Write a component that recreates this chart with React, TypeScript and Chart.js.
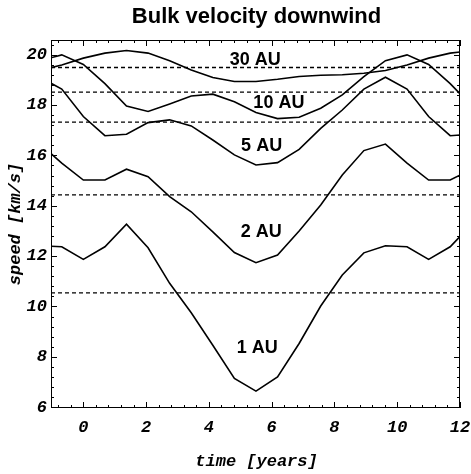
import React, { useEffect, useRef } from "react";
import { Chart, registerables } from "chart.js";

Chart.register(...registerables);

// time samples (years)
const times = [-1.375, -0.6875, 0, 0.6875, 1.375, 2.0625, 2.75, 3.4375, 4.125, 4.8125, 5.5, 6.1875, 6.875, 7.5625, 8.25, 8.9375, 9.625, 10.3125, 11, 11.6875, 12.375];

// bulk speed downwind (km/s)
const speed1AU = [12.41, 12.37, 11.87, 12.37, 13.27, 12.33, 10.92, 9.75, 8.46, 7.14, 6.64, 7.2, 8.53, 10.02, 11.25, 12.13, 12.41, 12.37, 11.87, 12.37, 13.27];
const speed2AU = [16.45, 15.69, 15.02, 15.02, 15.45, 15.15, 14.36, 13.76, 12.96, 12.14, 11.74, 12.04, 13.0, 14.03, 15.22, 16.19, 16.45, 15.69, 15.02, 15.02, 15.45];
const speed5AU = [19.1, 18.63, 17.54, 16.78, 16.84, 17.3, 17.41, 17.17, 16.61, 16.02, 15.62, 15.71, 16.24, 17.07, 17.8, 18.63, 19.1, 18.63, 17.54, 16.78, 16.84];
const speed10AU = [19.76, 19.99, 19.61, 18.85, 17.96, 17.74, 18.04, 18.36, 18.43, 18.13, 17.7, 17.46, 17.51, 17.87, 18.4, 19.13, 19.76, 19.99, 19.61, 18.85, 17.96];
const speed30AU = [19.37, 19.59, 19.86, 20.06, 20.16, 20.06, 19.76, 19.39, 19.09, 18.93, 18.93, 19.02, 19.13, 19.18, 19.2, 19.26, 19.37, 19.59, 19.86, 20.06, 20.16];

// mean speeds (dashed lines)
const meanSpeeds = [19.49, 18.51, 17.32, 14.43, 10.54];

// curve labels
const curveLabels = ["30 AU", "10 AU", "5 AU", "2 AU", "1 AU"];
const labelTimes = [5.48, 6.23, 5.68, 5.67, 5.54];
const labelSpeeds = [19.83, 18.12, 16.43, 13.02, 8.42];

// axis ticks
const xTicks = [0, 2, 4, 6, 8, 10, 12];
const yTicks = [6, 8, 10, 12, 14, 16, 18, 20];

const X_MIN = -1.03;
const X_MAX = 12;
const Y_MIN = 5.97;
const Y_MAX = 20.58;

const MONO = "'Liberation Mono', 'DejaVu Sans Mono', monospace";
const SANS = "'Liberation Sans', Arial, sans-serif";

const framePlugin = {
  id: "frame",
  afterDraw(chart: any) {
    const ctx = chart.ctx;
    const { left, right, top, bottom } = chart.chartArea;
    const xs = chart.scales.x;
    const ys = chart.scales.y;
    ctx.save();
    ctx.strokeStyle = "#000";
    ctx.lineWidth = 1;
    ctx.strokeRect(left + 0.5, top + 0.5, right - left - 1, bottom - top - 1);
    ctx.beginPath();
    for (let i = -3; i <= 30; i++) {
      const v = i * 0.4;
      if (v < X_MIN || v > X_MAX + 1e-9) continue;
      const px = Math.round(xs.getPixelForValue(v)) + 0.5;
      const len = i % 5 === 0 ? 6 : 3;
      ctx.moveTo(px, bottom);
      ctx.lineTo(px, bottom - len);
      ctx.moveTo(px, top);
      ctx.lineTo(px, top + len);
    }
    for (let i = 14; i <= 52; i++) {
      const v = i * 0.4;
      if (v < Y_MIN || v > Y_MAX) continue;
      const py = Math.round(ys.getPixelForValue(v)) + 0.5;
      const len = i % 5 === 0 ? 6 : 3;
      ctx.moveTo(left, py);
      ctx.lineTo(left + len, py);
      ctx.moveTo(right, py);
      ctx.lineTo(right - len, py);
    }
    ctx.stroke();

    // title
    const cx = (left + right) / 2 + 1;
    ctx.fillStyle = "#000";
    ctx.textAlign = "center";
    ctx.textBaseline = "alphabetic";
    ctx.font = `bold 22px ${SANS}`;
    ctx.fillText("Bulk velocity downwind", cx, 23);

    // axis titles
    ctx.font = `italic bold 17px ${MONO}`;
    ctx.textBaseline = "middle";
    ctx.fillText("time [years]", cx, 462);
    ctx.save();
    ctx.translate(16, (top + bottom) / 2);
    ctx.rotate(-Math.PI / 2);
    ctx.fillText("speed [km/s]", 0, 0);
    ctx.restore();

    // curve labels
    ctx.font = `bold 18px ${SANS}`;
    ctx.textBaseline = "alphabetic";
    curveLabels.forEach((t, i) => {
      const px = xs.getPixelForValue(labelTimes[i]);
      const py = ys.getPixelForValue(labelSpeeds[i]);
      ctx.fillText(t, px, py + 6.5);
    });
    ctx.restore();
  },
};

function toPoints(ys: number[]) {
  return ys.map((y, i) => ({ x: times[i], y }));
}

export default function App() {
  const ref = useRef<HTMLCanvasElement | null>(null);
  useEffect(() => {
    if (!ref.current) return;
    const curves = [speed1AU, speed2AU, speed5AU, speed10AU, speed30AU];
    const datasets: any[] = [];
    meanSpeeds.forEach((m) => {
      datasets.push({
        data: [
          { x: X_MIN, y: m },
          { x: X_MAX, y: m },
        ],
        borderColor: "#000",
        borderWidth: 1.4,
        borderDash: [4, 3],
        pointRadius: 0,
        fill: false,
      });
    });
    curves.forEach((c) => {
      datasets.push({
        data: toPoints(c),
        borderColor: "#000",
        borderWidth: 1.6,
        pointRadius: 0,
        tension: 0,
        fill: false,
      });
    });
    const tickFont = { family: MONO, style: "italic" as const, weight: "bold" as const, size: 17 };
    const chart = new Chart(ref.current, {
      type: "line",
      data: { datasets },
      options: {
        animation: false,
        responsive: false,
        events: [],
        layout: { padding: { top: 40, right: 11, left: 0, bottom: 0 } },
        plugins: { legend: { display: false }, tooltip: { enabled: false }, title: { display: false } },
        scales: {
          x: {
            type: "linear",
            min: X_MIN,
            max: X_MAX,
            grid: { display: false, drawTicks: true, tickLength: 10 },
            border: { display: false },
            afterBuildTicks: (s: any) => {
              s.ticks = xTicks.map((v) => ({ value: v }));
            },
            afterFit: (s: any) => {
              s.height = 66;
            },
            ticks: {
              color: "#000",
              padding: 0,
              maxRotation: 0,
              autoSkip: false,
              font: tickFont,
            },
          },
          y: {
            type: "linear",
            min: Y_MIN,
            max: Y_MAX,
            grid: { display: false, drawTicks: true, tickLength: 4 },
            border: { display: false },
            afterBuildTicks: (s: any) => {
              s.ticks = yTicks.map((v) => ({ value: v }));
            },
            afterFit: (s: any) => {
              s.width = 51;
            },
            ticks: {
              color: "#000",
              padding: 0,
              autoSkip: false,
              font: tickFont,
            },
          },
        },
      },
      plugins: [framePlugin],
    });
    return () => chart.destroy();
  }, []);
  return (
    <div style={{ position: "absolute", left: 0, top: 0, width: 471, height: 474, background: "#fff" }}>
      <canvas ref={ref} width={471} height={474} style={{ display: "block" }} />
    </div>
  );
}
